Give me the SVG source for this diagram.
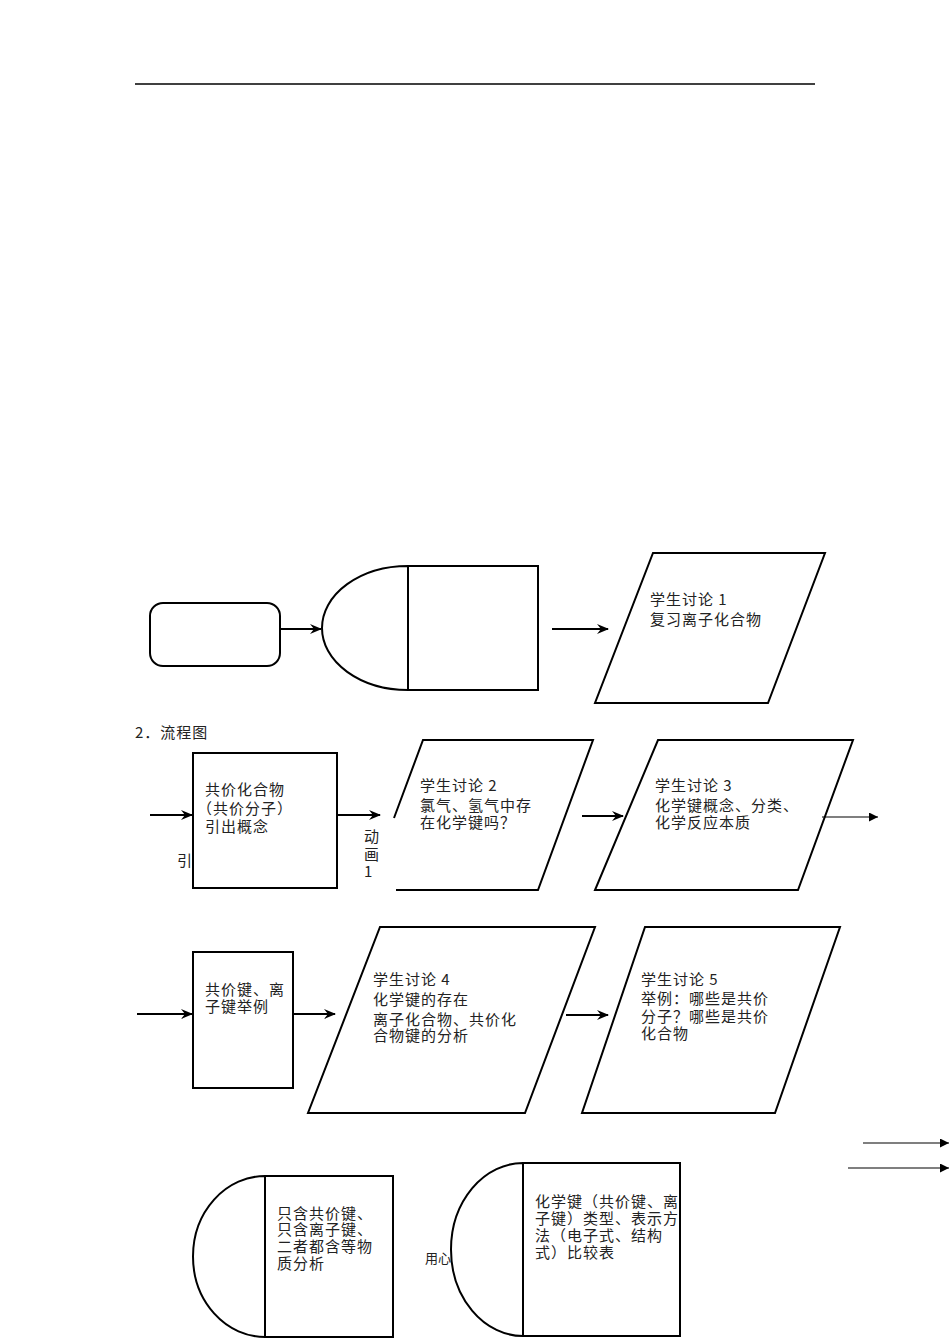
<svg xmlns="http://www.w3.org/2000/svg" width="950" height="1344" viewBox="0 0 950 1344">
<style>
.s{fill:#fff;stroke:#000;stroke-width:2;stroke-linejoin:miter}
.o{fill:none;stroke:#000;stroke-width:2}
.c{stroke:#000;stroke-width:2.2;fill:none}
.t{stroke:#000;stroke-width:1.2;fill:none}
text{font-family:"Noto Sans CJK SC","Liberation Sans",sans-serif;font-size:15px;letter-spacing:1px;fill:#222;text-spacing-trim:space-all;font-feature-settings:"chws" 0,"halt" 0,"palt" 0}
.xs{font-size:13px;letter-spacing:0}
</style>
<defs>
<marker id="ah" viewBox="0 0 12 10" refX="11" refY="5" markerWidth="12" markerHeight="10" markerUnits="userSpaceOnUse" orient="auto">
<path d="M0,0 L12,5 L0,10 L4,5 z" fill="#000"/>
</marker>
<marker id="tri" viewBox="0 0 10 10" refX="10" refY="5" markerWidth="9" markerHeight="9" markerUnits="userSpaceOnUse" orient="auto">
<path d="M0,0 L10,5 L0,10 z" fill="#000"/>
</marker>
</defs>
<rect width="950" height="1344" fill="#fff"/>
<line x1="135" y1="84" x2="815" y2="84" stroke="#000" stroke-width="1.5"/>

<g id="n1">
<rect class="s" x="150" y="603" width="130" height="63" rx="13" ry="13"/>
</g>
<g id="n2">
<path class="s" d="M408,566 A86,62 0 0 0 408,690 Z"/>
<rect class="s" x="408" y="566" width="130" height="124"/>
</g>
<g id="n3">
<polygon class="s" points="653,553 825,553 768,703 595,703"/>
<text x="650" y="605">学生讨论 1</text>
<text x="650" y="625">复习离子化合物</text>
</g>

<text x="135" y="738">2．流程图</text>

<g id="n4">
<rect class="s" x="193" y="753" width="144" height="135"/>
<text x="205" y="795">共价化合物</text>
<text x="197" y="814">（共价分子）</text>
<text x="205" y="832">引出概念</text>
</g>
<text x="177" y="866">引</text>
<g id="lbl-anim">
<text x="364" y="842">动</text>
<text x="364" y="860">画</text>
<text x="364" y="877">1</text>
</g>
<g id="n5">
<path class="o" d="M396,890 L538,890 L593,740 L423,740 L394,818"/>
<text x="420" y="791">学生讨论 2</text>
<text x="420" y="811">氯气、氢气中存</text>
<text x="420" y="828">在化学键吗？</text>
</g>
<g id="n6">
<polygon class="s" points="658,740 853,740 798,890 595,890"/>
<text x="655" y="791">学生讨论 3</text>
<text x="655" y="811">化学键概念、分类、</text>
<text x="655" y="828">化学反应本质</text>
</g>

<g id="n7">
<rect class="s" x="193" y="952" width="100" height="136"/>
<text x="205" y="995">共价键、离</text>
<text x="205" y="1012">子键举例</text>
</g>
<g id="n8">
<polygon class="s" points="380,927 595,927 525,1113 308,1113"/>
<text x="373" y="985">学生讨论 4</text>
<text x="373" y="1005">化学键的存在</text>
<text x="373" y="1025">离子化合物、共价化</text>
<text x="373" y="1041">合物键的分析</text>
</g>
<g id="n9">
<polygon class="s" points="645,927 840,927 775,1113 582,1113"/>
<text x="641" y="985">学生讨论 5</text>
<text x="641" y="1004">举例：哪些是共价</text>
<text x="641" y="1022">分子？哪些是共价</text>
<text x="641" y="1039">化合物</text>
</g>

<g id="n10">
<path class="s" d="M265,1176 A72,80.5 0 0 0 265,1337 Z"/>
<rect class="s" x="265" y="1176" width="128" height="161"/>
<text x="277" y="1219">只含共价键、</text>
<text x="277" y="1235">只含离子键、</text>
<text x="277" y="1252">二者都含等物</text>
<text x="277" y="1269">质分析</text>
</g>
<text class="xs" x="425" y="1263">用心</text>
<g id="n11">
<path class="s" d="M523,1163 A72,86.5 0 0 0 523,1336 Z"/>
<rect class="s" x="523" y="1163" width="157" height="173"/>
<text x="535" y="1207">化学键（共价键、离</text>
<text x="535" y="1224">子键）类型、表示方</text>
<text x="535" y="1241">法（电子式、结构</text>
<text x="535" y="1258">式）比较表</text>
</g>

<g id="connectors">
<line class="c" x1="280" y1="629" x2="321" y2="629" marker-end="url(#ah)"/>
<line class="c" x1="552" y1="629" x2="608" y2="629" marker-end="url(#ah)"/>
<line class="c" x1="150" y1="815" x2="192" y2="815" marker-end="url(#ah)"/>
<line class="c" x1="337" y1="815" x2="380" y2="815" marker-end="url(#ah)"/>
<line class="c" x1="582" y1="816" x2="623" y2="816" marker-end="url(#ah)"/>
<line class="t" x1="822" y1="817" x2="878" y2="817" marker-end="url(#tri)"/>
<line class="c" x1="137" y1="1014" x2="192" y2="1014" marker-end="url(#ah)"/>
<line class="c" x1="293" y1="1014" x2="335" y2="1014" marker-end="url(#ah)"/>
<line class="c" x1="566" y1="1015" x2="608" y2="1015" marker-end="url(#ah)"/>
<line class="t" x1="863" y1="1143" x2="949" y2="1143" marker-end="url(#tri)"/>
<line class="t" x1="848" y1="1168" x2="949" y2="1168" marker-end="url(#tri)"/>
</g>
</svg>
